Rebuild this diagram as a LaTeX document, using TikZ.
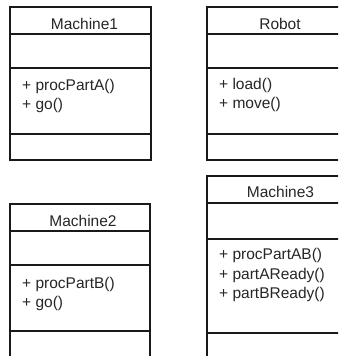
\documentclass[tikz,border=0pt]{standalone}
\usepackage{fontspec}
\setmainfont{Liberation Sans}
\begin{document}
\begin{tikzpicture}[x=1pt,y=-1pt,
  boxline/.style={draw=black!90, line width=1.1pt},
  title/.style={anchor=base, inner sep=0pt, font=\fontsize{15.5}{19}\selectfont, text=black!85},
  meth/.style={anchor=base west, inner sep=0pt, font=\fontsize{15.5}{19}\selectfont, text=black!85}]
\useasboundingbox (0,0) rectangle (338,356);
\clip (0,0) rectangle (338,356);
% Machine1
\draw[boxline] (10,7) rectangle (151,160);
\draw[boxline] (10,34) -- (151,34) (10,68) -- (151,68) (10,134) -- (151,134);
\node[title] (m1t) at (84.5,29) {Machine1};
\node[meth] (m1a) at (22,90) {+ procPartA()};
\node[meth] (m1b) at (22,109.5) {+ go()};
% Robot
\draw[boxline] (207,7) rectangle (348,160);
\draw[boxline] (207,34) -- (348,34) (207,68) -- (348,68) (207,134) -- (348,134);
\node[title] (rt) at (280,29) {Robot};
\node[meth] (ra) at (219,89) {+ load()};
\node[meth] (rb) at (219,108.5) {+ move()};
% Machine2
\draw[boxline] (10,204) rectangle (150,380);
\draw[boxline] (10,231) -- (150,231) (10,265) -- (150,265) (10,331) -- (150,331);
\node[title] (m2t) at (83,226) {Machine2};
\node[meth] (m2a) at (22,288) {+ procPartB()};
\node[meth] (m2b) at (22,307.5) {+ go()};
% Machine3
\draw[boxline] (207,176) rectangle (348,380);
\draw[boxline] (207,203) -- (348,203) (207,239) -- (348,239) (207,333) -- (348,333);
\node[title] (m3t) at (280.5,197) {Machine3};
\node[meth] (m3a) at (219,259.5) {+ procPartAB()};
\node[meth] (m3b) at (219,279) {+ partAReady()};
\node[meth] (m3c) at (219,298.5) {+ partBReady()};
\end{tikzpicture}
\end{document}
